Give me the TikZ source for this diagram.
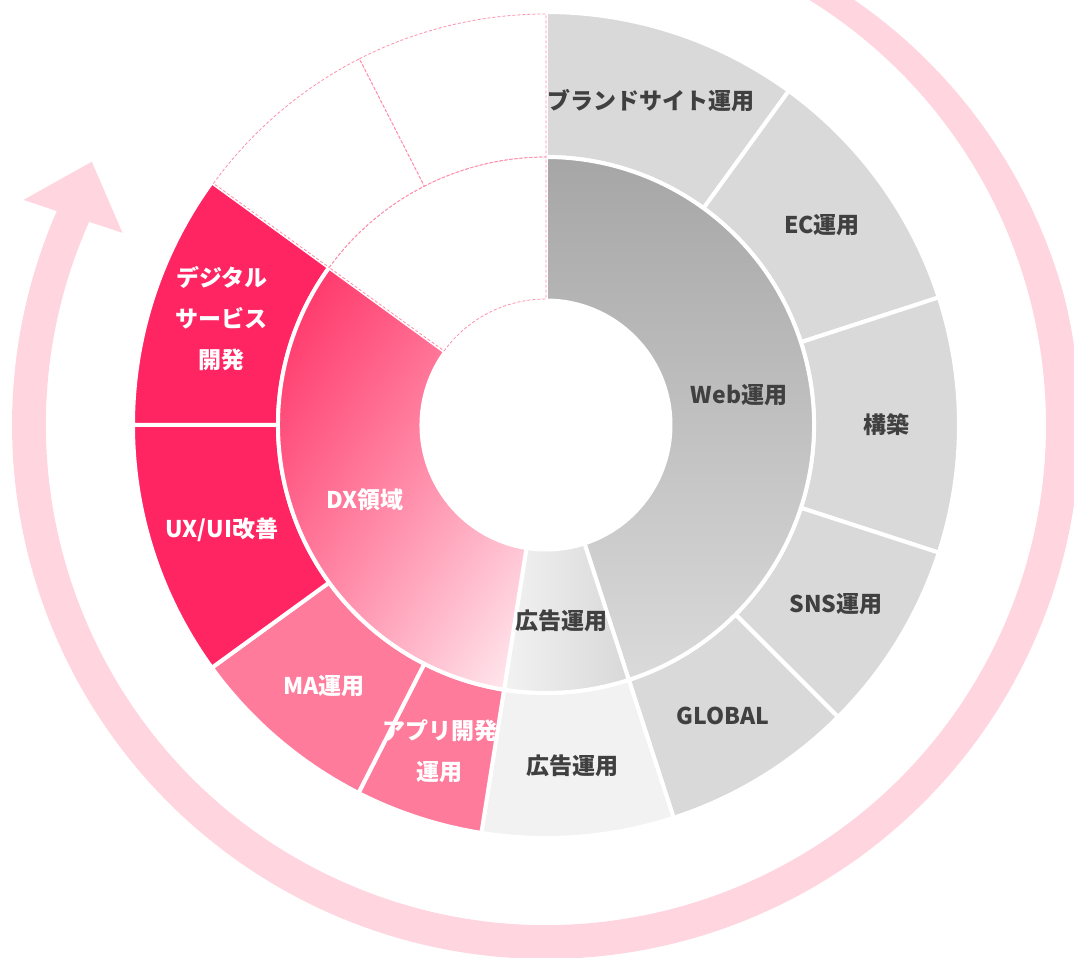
\documentclass[tikz,border=0pt]{standalone}
\usepackage{fontspec}
\usetikzlibrary{shadings}
\setmainfont{Noto Sans CJK JP}
\definecolor{greyseg}{HTML}{D9D9D9}
\definecolor{greylight}{HTML}{F2F2F2}
\definecolor{greyright}{HTML}{D8D8D8}
\definecolor{greytop}{HTML}{A6A6A6}
\definecolor{greybot}{HTML}{DADADA}
\definecolor{pinkstrong}{HTML}{FF2562}
\definecolor{pinkmid}{HTML}{FF7B9C}
\definecolor{pinkarrow}{HTML}{FFD6E0}
\definecolor{pinkdash}{HTML}{FF8FAB}
\definecolor{dxtl}{HTML}{FF2058}
\definecolor{dxmid}{HTML}{FF7A9C}
\definecolor{dxbr}{HTML}{FFF0F4}
\definecolor{textgrey}{HTML}{404040}
\newcommand{\ringsect}[4]{(#1:#3) arc[start angle=#1,end angle=#2,radius=#3] -- (#2:#4) arc[start angle=#2,end angle=#1,radius=#4] -- cycle}
\tikzset{
  seg/.style={draw=white, line width=4pt, line join=round},
  emptyseg/.style={draw=pinkdash, line width=0.8pt, dash pattern=on 3pt off 2pt},
  lbl/.style={font=\fontsize{23}{41}\selectfont\bfseries, align=center, inner sep=0pt},
  dark/.style={lbl, text=textgrey},
  light/.style={lbl, text=white}
}
\begin{document}
\begin{tikzpicture}[x=1pt,y=1pt]
\useasboundingbox (-546,-533) rectangle (528,425);
\clip (-546,-533) rectangle (528,425);
% circular arrow
\fill[pinkarrow] plot[domain=75:-204, samples=200] (\x:{534-0.22*max(0,\x-14)}) -- (-204:500) arc[start angle=-204, end angle=75, radius=500] -- cycle;
\fill[pinkarrow] (156.7:569) coordinate (barbA) -- (149.9:525) coordinate (tipA) -- (155.6:465) coordinate (barbB) -- cycle;
% outer ring
\fill[greyseg, seg] \ringsect{90}{54}{268}{413};
\fill[greyseg, seg] \ringsect{54}{18}{268}{413};
\fill[greyseg, seg] \ringsect{18}{-18}{268}{413};
\fill[greyseg, seg] \ringsect{-18}{-45}{268}{413};
\fill[greyseg, seg] \ringsect{-45}{-72}{268}{413};
\fill[greylight, seg] \ringsect{-72}{-99}{268}{413};
\fill[pinkmid, seg] \ringsect{-99}{-117}{268}{413};
\fill[pinkmid, seg] \ringsect{-117}{-144}{268}{413};
\fill[pinkstrong, seg] \ringsect{-144}{-180}{268}{413};
\fill[pinkstrong, seg] \ringsect{-180}{-216}{268}{413};
% middle ring
\shade[top color=greytop, bottom color=greybot] \ringsect{90}{-72}{124.5}{268};
\draw[seg] \ringsect{90}{-72}{124.5}{268};
\shade[left color=greylight, right color=greyright] \ringsect{-72}{-99}{124.5}{268};
\draw[seg] \ringsect{-72}{-99}{124.5}{268};
\shade[upper left=dxtl, upper right=dxmid, lower left=dxmid, lower right=dxbr] \ringsect{-99}{-216}{124.5}{268};
\draw[seg] \ringsect{-99}{-216}{124.5}{268};
% empty dashed segments
\draw[emptyseg] \ringsect{-216}{-243}{268}{411};
\draw[emptyseg] \ringsect{-243}{-270}{268}{411};
\draw[emptyseg] \ringsect{-216}{-270}{126}{268};
% labels
\node[dark] (brand) at (105,324) {ブランドサイト運用};
\node[dark] (ec) at (276,200) {EC運用};
\node[dark] (kouchiku) at (340,0) {構築};
\node[dark] (sns) at (290,-179) {SNS運用};
\node[dark] (global) at (177,-291) {GLOBAL};
\node[dark] (adout) at (27,-341) {広告運用};
\node[dark] (adin) at (16,-196) {広告運用};
\node[dark] (web) at (193,30) {Web運用};
\node[light] (dx) at (-181,-75) {DX領域};
\node[light] (digital) at (-324,106) {デジタル\\サービス\\開発};
\node[light] (uxui) at (-324,-105) {UX/UI改善};
\node[light] (ma) at (-222,-261) {MA運用};
\node[light] (app) at (-106,-326) {アプリ開発\\運用};
\end{tikzpicture}
\end{document}
